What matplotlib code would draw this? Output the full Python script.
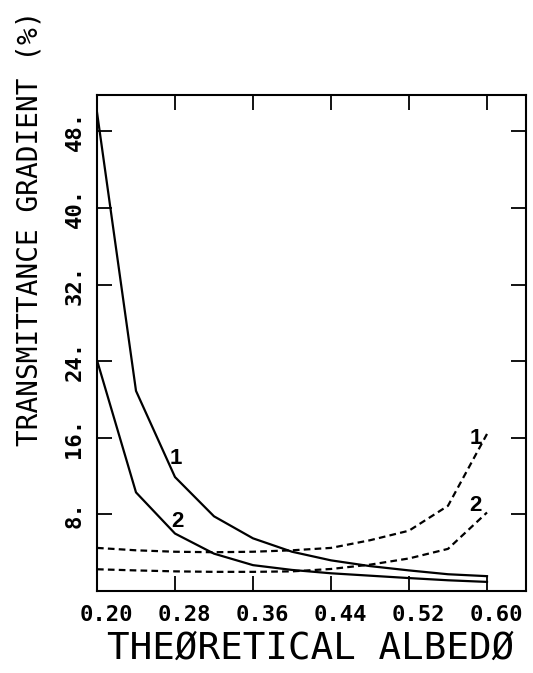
import matplotlib
matplotlib.use("Agg")
import matplotlib.pyplot as plt
import matplotlib.transforms as mtransforms

# ---- data ----
albedo = [0.20, 0.24, 0.28, 0.32, 0.36, 0.40, 0.44, 0.48, 0.52, 0.56, 0.60]
solid_1 = [50.0, 20.9, 11.9, 7.8, 5.5, 4.1, 3.2, 2.6, 2.15, 1.75, 1.55]
solid_2 = [24.1, 10.3, 6.0, 3.9, 2.7, 2.2, 1.85, 1.6, 1.35, 1.12, 0.95]
dashed_1 = [4.5, 4.25, 4.1, 4.05, 4.1, 4.25, 4.5, 5.3, 6.3, 8.9, 16.4]
dashed_2 = [2.27, 2.15, 2.05, 2.0, 2.0, 2.05, 2.3, 2.75, 3.4, 4.4, 8.2]

x_ticks = [0.20, 0.28, 0.36, 0.44, 0.52, 0.60]
x_tick_labels = ["0.20", "0.28", "0.36", "0.44", "0.52", "0.60"]
y_ticks = [8, 16, 24, 32, 40, 48]
y_tick_labels = ["8.", "16.", "24.", "32.", "40.", "48."]

x_label = "THEØRETICAL ALBEDØ"
y_label = "TRANSMITTANCE GRADIENT (%)"

# ---- figure ----
W, H, DPI = 533, 673, 100
fig = plt.figure(figsize=(W / DPI, H / DPI), dpi=DPI)
ax = fig.add_axes([97 / W, 1 - 591 / H, (526 - 97) / W, (591 - 95) / H])

lw = 1.6
ax.plot(albedo, solid_1, color="black", lw=lw)
ax.plot(albedo, solid_2, color="black", lw=lw)
ax.plot(albedo, dashed_1, color="black", lw=lw, linestyle=(0, (3.0, 1.9)))
ax.plot(albedo, dashed_2, color="black", lw=lw, linestyle=(0, (3.0, 1.9)))

ax.set_xlim(0.20, 0.64)
ax.set_ylim(0, 51.8)

mono = "DejaVu Sans Mono"
ax.set_xticks(x_ticks)
ax.set_xticklabels(x_tick_labels, fontfamily=mono, fontsize=16,
                   fontweight="bold")
ax.set_yticks(y_ticks)
ax.set_yticklabels(y_tick_labels, fontfamily=mono, fontsize=16,
                   fontweight="bold", rotation=90, va="center")

ax.tick_params(axis="both", which="major", direction="in", length=10.5,
               width=1.3, top=True, right=True, color="black")
ax.tick_params(axis="x", pad=10)
ax.tick_params(axis="y", pad=9)

# shift x tick labels slightly right, as in the reference
off = mtransforms.ScaledTranslation(9 / DPI, 0, fig.dpi_scale_trans)
for lab in ax.get_xticklabels():
    lab.set_transform(lab.get_transform() + off)

for s in ax.spines.values():
    s.set_linewidth(1.5)
    s.set_color("black")

ax.set_xlabel(x_label, fontfamily=mono, fontsize=27)
ax.xaxis.set_label_coords((311 - 97) / (526 - 97), (591 - 631) / (591 - 95))
ax.set_ylabel(y_label, fontfamily=mono, fontsize=20)
ax.yaxis.set_label_coords((44 - 97) / (526 - 97), (591 - 228) / (591 - 95))

# curve labels
lab_kw = dict(fontsize=16, fontweight="bold", fontfamily="Liberation Sans",
              ha="center", va="center", color="black")
ax.text(0.281, 13.8, "1", **lab_kw)
ax.text(0.282, 7.3, "2", **lab_kw)
ax.text(0.589, 15.9, "1", **lab_kw)
ax.text(0.588, 8.9, "2", **lab_kw)

fig.savefig("out.png", dpi=DPI)
